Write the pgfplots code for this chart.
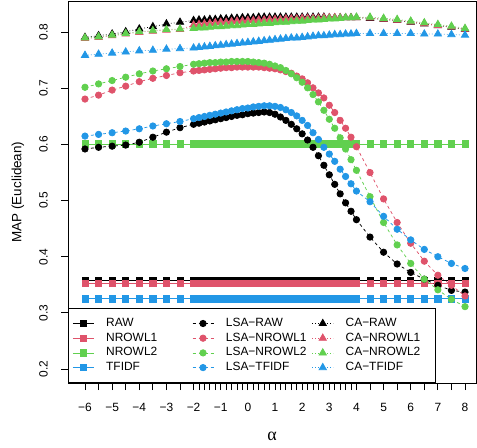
\documentclass[border=0pt]{standalone}
\usepackage{fontspec}
\setmainfont{Liberation Sans}
\newfontfamily\grk{Liberation Serif}
\usepackage{pgfplots}
\usepackage{pgfplotstable}
\pgfplotsset{compat=1.18}
\definecolor{cblack}{HTML}{000000}
\definecolor{cred}{HTML}{DF536B}
\definecolor{cgreen}{HTML}{61D04F}
\definecolor{cblue}{HTML}{2297E6}
\pgfplotstableread{
x r n1 n2 tf lr l1 l2 lt cr c1 c2 ct
-6 0.357 0.352 0.601 0.325 0.592 0.681 0.702 0.615 0.791 0.789 0.790 0.759
-5.5 0.357 0.352 0.601 0.325 0.595 0.688 0.708 0.618 0.794 0.791 0.792 0.761
-5 0.357 0.352 0.601 0.325 0.597 0.697 0.714 0.621 0.797 0.794 0.795 0.763
-4.5 0.357 0.352 0.601 0.325 0.599 0.704 0.720 0.624 0.801 0.797 0.798 0.765
-4 0.357 0.352 0.601 0.325 0.604 0.712 0.726 0.628 0.806 0.800 0.801 0.767
-3.5 0.357 0.352 0.601 0.325 0.613 0.718 0.731 0.633 0.810 0.802 0.803 0.768
-3 0.357 0.352 0.601 0.325 0.622 0.723 0.735 0.637 0.815 0.804 0.805 0.770
-2.5 0.357 0.352 0.601 0.325 0.630 0.728 0.739 0.641 0.818 0.805 0.806 0.771
-2 0.357 0.352 0.601 0.325 0.636 0.731 0.743 0.646 0.821 0.813 0.807 0.772
-1.8 0.357 0.352 0.601 0.325 0.638 0.732 0.744 0.648 0.822 0.814 0.808 0.773
-1.6 0.357 0.352 0.601 0.325 0.640 0.733 0.745 0.650 0.822 0.815 0.808 0.774
-1.4 0.357 0.352 0.601 0.325 0.642 0.734 0.746 0.652 0.823 0.816 0.809 0.775
-1.2 0.357 0.352 0.601 0.325 0.644 0.735 0.746 0.654 0.823 0.817 0.810 0.776
-1 0.357 0.352 0.601 0.325 0.646 0.736 0.747 0.656 0.824 0.818 0.810 0.777
-0.8 0.357 0.352 0.601 0.325 0.648 0.737 0.747 0.658 0.824 0.818 0.811 0.778
-0.6 0.357 0.352 0.601 0.325 0.650 0.737 0.748 0.660 0.825 0.819 0.812 0.779
-0.4 0.357 0.352 0.601 0.325 0.652 0.738 0.748 0.662 0.825 0.820 0.812 0.780
-0.2 0.357 0.352 0.601 0.325 0.653 0.738 0.748 0.664 0.826 0.820 0.813 0.781
0 0.357 0.352 0.601 0.325 0.655 0.738 0.748 0.665 0.826 0.821 0.814 0.782
0.2 0.357 0.352 0.601 0.325 0.656 0.738 0.747 0.667 0.826 0.821 0.814 0.783
0.4 0.357 0.352 0.601 0.325 0.657 0.738 0.746 0.668 0.827 0.822 0.815 0.784
0.6 0.357 0.352 0.601 0.325 0.658 0.737 0.745 0.669 0.827 0.822 0.816 0.785
0.8 0.357 0.352 0.601 0.325 0.657 0.736 0.743 0.669 0.827 0.823 0.816 0.786
1 0.357 0.352 0.601 0.325 0.654 0.735 0.740 0.668 0.827 0.823 0.817 0.787
1.2 0.357 0.352 0.601 0.325 0.649 0.733 0.737 0.666 0.827 0.823 0.818 0.788
1.4 0.357 0.352 0.601 0.325 0.643 0.730 0.732 0.662 0.827 0.824 0.818 0.789
1.6 0.357 0.352 0.601 0.325 0.636 0.727 0.726 0.657 0.827 0.824 0.819 0.790
1.8 0.357 0.352 0.601 0.325 0.628 0.722 0.719 0.651 0.827 0.824 0.820 0.790
2 0.357 0.352 0.601 0.325 0.619 0.717 0.711 0.643 0.827 0.825 0.820 0.791
2.2 0.357 0.352 0.601 0.325 0.608 0.710 0.701 0.634 0.827 0.825 0.821 0.792
2.4 0.357 0.352 0.601 0.325 0.595 0.701 0.689 0.621 0.827 0.825 0.822 0.793
2.6 0.357 0.352 0.601 0.325 0.580 0.692 0.676 0.609 0.827 0.825 0.822 0.794
2.8 0.357 0.352 0.601 0.325 0.563 0.683 0.661 0.595 0.827 0.826 0.823 0.794
3 0.357 0.352 0.601 0.325 0.546 0.670 0.645 0.583 0.826 0.826 0.824 0.795
3.2 0.357 0.352 0.601 0.325 0.529 0.657 0.629 0.570 0.826 0.826 0.824 0.796
3.4 0.357 0.352 0.601 0.325 0.512 0.643 0.612 0.556 0.826 0.826 0.825 0.796
3.6 0.357 0.352 0.601 0.325 0.496 0.629 0.592 0.543 0.826 0.826 0.826 0.797
3.8 0.357 0.352 0.601 0.325 0.481 0.613 0.573 0.530 0.826 0.826 0.826 0.797
4 0.357 0.352 0.601 0.325 0.466 0.596 0.554 0.517 0.826 0.826 0.827 0.798
4.5 0.357 0.352 0.601 0.325 0.435 0.550 0.507 0.498 0.825 0.8255 0.827 0.798
5 0.357 0.352 0.601 0.325 0.408 0.503 0.461 0.472 0.823 0.8235 0.825 0.798
5.5 0.357 0.352 0.601 0.325 0.387 0.461 0.421 0.449 0.821 0.8215 0.823 0.798
6 0.357 0.352 0.601 0.325 0.372 0.424 0.388 0.430 0.818 0.8185 0.820 0.798
6.5 0.357 0.352 0.601 0.325 0.360 0.392 0.360 0.413 0.815 0.8155 0.817 0.797
7 0.357 0.352 0.601 0.325 0.349 0.367 0.341 0.400 0.812 0.8125 0.814 0.797
7.5 0.357 0.352 0.601 0.325 0.340 0.349 0.324 0.388 0.809 0.8095 0.811 0.796
8 0.357 0.352 0.601 0.325 0.337 0.330 0.311 0.379 0.805 0.8055 0.807 0.795
}\data
\pgfplotsset{
  sqs/.style={solid, line width=0.75bp, mark=square*, mark size=3.1bp, mark options={solid}},
  lsa/.style={line width=0.75bp, dash pattern=on 3bp off 3bp, mark=*, mark size=3.2bp, mark options={solid}},
  cas/.style={line width=0.75bp, dash pattern=on 0.75bp off 2.25bp, mark=triangle*, mark size=4.2bp, mark options={solid}},
}
\begin{document}
\begin{tikzpicture}
\useasboundingbox (0,0) rectangle (477bp,448bp);
\begin{axis}[
  at={(68bp,65bp)}, anchor=south west,
  width=408bp, height=382bp, scale only axis,
  xmin=-6.626, xmax=8.405, ymin=0.1749, ymax=0.8558,
  axis line style={line width=0.8bp},
  /pgf/number format/assume math mode=true,
  xtick={-6,-5,-4,-3,-2,-1,0,1,2,3,4,5,6,7,8},
  xticklabels={−6,−5,−4,−3,−2,−1,0,1,2,3,4,5,6,7,8},
  minor xtick={-5.5,-4.5,-3.5,-2.5,-1.8,-1.6,-1.4,-1.2,-0.8,-0.6,-0.4,-0.2,0.2,0.4,0.6,0.8,1.2,1.4,1.6,1.8,2.2,2.4,2.6,2.8,3.2,3.4,3.6,3.8,4.5,5.5,6.5,7.5},
  ytick={0.2,0.3,0.4,0.5,0.6,0.7,0.8},
  yticklabels={0.2,0.3,0.4,0.5,0.6,0.7,0.8},
  tick align=outside, xtick pos=bottom, ytick pos=left,
  major tick length=7bp, minor tick length=7bp,
  tick style={black, line width=0.75bp},
  minor tick style={black, line width=0.75bp},
  tick label style={font=\fontsize{12}{14}\selectfont},
  xticklabel style={anchor=north, inner sep=0pt, yshift=-13bp},
  yticklabel style={xshift=-13bp, rotate=90, anchor=south, inner sep=0pt},
  every axis y label/.style={at={(axis description cs:0,0.5)}, xshift=-50bp, rotate=90, anchor=center, font=\fontsize{13.5}{15}\selectfont},
  every axis x label/.style={at={(axis description cs:0.5,0)}, yshift=-53bp, anchor=center, font=\fontsize{18}{20}\selectfont\grk},
  ylabel={MAP (Euclidean)},
  xlabel={α},
  legend columns=3,
  legend image code/.code={\draw[mark repeat=2,mark phase=2,#1] plot coordinates {(0bp,0bp) (10.5bp,0bp) (21bp,0bp)};},
  legend style={at={(0,0)}, anchor=south west, draw=black, line width=0.8bp, fill=white,
    inner xsep=4bp, inner ysep=9bp, font=\fontsize{12}{14}\selectfont,
    nodes={inner sep=0pt, text height=9bp, text depth=3bp, text width=86bp, align=left, anchor=west},
    row sep=2.7bp, /tikz/every odd column/.append style={column sep=12bp}},
]
\addplot[forget plot, sqs, color=cblack] table[x=x,y=r] {\data};
\addplot[forget plot, sqs, color=cred] table[x=x,y=n1] {\data};
\addplot[forget plot, sqs, color=cgreen] table[x=x,y=n2] {\data};
\addplot[forget plot, sqs, color=cblue] table[x=x,y=tf] {\data};
\addplot[forget plot, lsa, color=cblack] table[x=x,y=lr] {\data};
\addplot[forget plot, lsa, color=cred] table[x=x,y=l1] {\data};
\addplot[forget plot, lsa, color=cgreen] table[x=x,y=l2] {\data};
\addplot[forget plot, lsa, color=cblue] table[x=x,y=lt] {\data};
\addplot[forget plot, cas, color=cblack] table[x=x,y=cr] {\data};
\addplot[forget plot, cas, color=cred] table[x=x,y=c1] {\data};
\addplot[forget plot, cas, color=cgreen] table[x=x,y=c2] {\data};
\addplot[forget plot, cas, color=cblue] table[x=x,y=ct] {\data};
\addlegendimage{sqs, color=cblack}\addlegendentry{RAW}
\addlegendimage{lsa, color=cblack}\addlegendentry{LSA−RAW}
\addlegendimage{cas, color=cblack}\addlegendentry{CA−RAW}
\addlegendimage{sqs, color=cred}\addlegendentry{NROWL1}
\addlegendimage{lsa, color=cred}\addlegendentry{LSA−NROWL1}
\addlegendimage{cas, color=cred}\addlegendentry{CA−NROWL1}
\addlegendimage{sqs, color=cgreen}\addlegendentry{NROWL2}
\addlegendimage{lsa, color=cgreen}\addlegendentry{LSA−NROWL2}
\addlegendimage{cas, color=cgreen}\addlegendentry{CA−NROWL2}
\addlegendimage{sqs, color=cblue}\addlegendentry{TFIDF}
\addlegendimage{lsa, color=cblue}\addlegendentry{LSA−TFIDF}
\addlegendimage{cas, color=cblue}\addlegendentry{CA−TFIDF}
\end{axis}
\end{tikzpicture}
\end{document}
